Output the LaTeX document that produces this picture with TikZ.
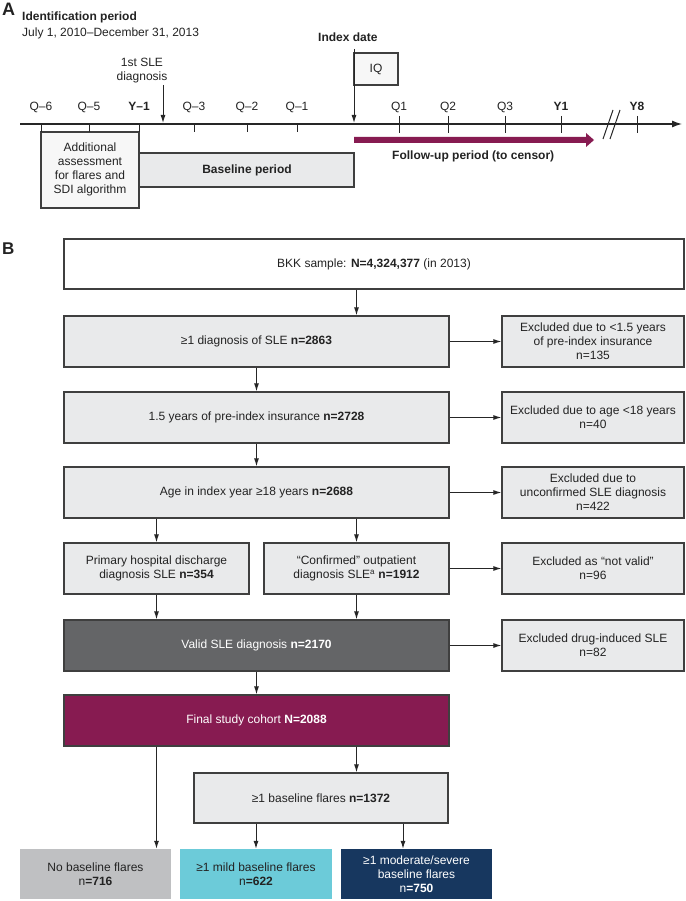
\documentclass[tikz,border=0pt]{standalone}
\usepackage{fontspec}
\setmainfont{Liberation Sans}
\usetikzlibrary{arrows.meta}
\definecolor{boxfill}{HTML}{E9EAEB}
\definecolor{bordc}{HTML}{3F3F3F}
\definecolor{linec}{HTML}{262626}
\definecolor{txt}{HTML}{232323}
\definecolor{validc}{HTML}{646567}
\definecolor{purp}{HTML}{871B51}
\definecolor{nbc}{HTML}{BFC0C2}
\definecolor{mildc}{HTML}{6CCBD9}
\definecolor{navy}{HTML}{17375F}
\definecolor{addfill}{HTML}{F7F7F7}
\begin{document}
\begin{tikzpicture}[x=1pt,y=-1pt,
  font=\fontsize{12}{14}\selectfont,
  gbox/.style={draw=bordc, line width=1.3pt, fill=boxfill, align=center, inner sep=0pt, text=txt},
  fbox/.style={align=center, inner sep=0pt},
  arr/.style={-{Latex[length=8pt,width=5pt]}, line width=1pt, draw=linec},
  lbl/.style={inner sep=0pt, text=txt},
  tick/.style={line width=1pt, draw=linec}]
\useasboundingbox (0,0) rectangle (685,901);

% ---------------- Part A ----------------
\node[lbl, anchor=north west, font=\fontsize{18}{20}\selectfont\bfseries] (lA) at (2,3) {A};
\node[lbl, anchor=base west, font=\fontsize{12}{14}\selectfont\bfseries] (idp) at (22,21) {Identification period};
\node[lbl, anchor=base west] (idd) at (22,37) {July 1, 2010–December 31, 2013};
\node[lbl, anchor=base west, font=\fontsize{12}{14}\selectfont\bfseries] (idx) at (318,42) {Index date};

% boxes of part A
\draw[line width=1.3pt, draw=bordc, fill=addfill] (41,132) rectangle (139,208);
\node[lbl, align=center] (add) at (90,169.5) {Additional\\assessment\\for flares and\\SDI algorithm};
\draw[line width=1.3pt, draw=bordc, fill=boxfill] (139,153) rectangle (354,187);
\node[lbl, font=\fontsize{12}{14}\selectfont\bfseries] (bp) at (247,170.5) {Baseline period};

% IQ flag
\draw[line width=1.3pt, draw=bordc, fill=addfill] (354,53) rectangle (398,85);
\node[lbl] (iq) at (376,69.5) {IQ};
\coordinate (ixtop) at (354,49);
\coordinate (ixbot) at (354,123);
\draw[arr] (ixtop) -- (ixbot);

% 1st SLE diagnosis
\node[lbl, align=center] (sle) at (142,71) {1st SLE\\diagnosis};
\coordinate (sletop) at (163,85);
\coordinate (slebot) at (163,123);
\draw[arr] (sletop) -- (slebot);

% timeline
\coordinate (tl0) at (20,124);
\coordinate (tl1) at (682,124);
\draw[-{Latex[length=10pt,width=7pt]}, line width=1.2pt, draw=linec] (tl0) -- (tl1);
\foreach \x in {41,89,139,194,247,297}{\draw[tick] (\x,124) -- (\x,132);}
\foreach \x in {399,448,505,561,637}{\draw[tick] (\x,116) -- (\x,133);}
\foreach \x/\t in {41/Q–6,89/Q–5,194/Q–3,247/Q–2,297/Q–1,399/Q1,448/Q2,505/Q3}{
  \node[lbl, anchor=base] at (\x,111) {\t};}
\node[lbl, anchor=base, font=\fontsize{12}{14}\selectfont\bfseries] (ym1) at (139,111) {Y–1};
\node[lbl, anchor=base, font=\fontsize{12}{14}\selectfont\bfseries] (y1) at (561,111) {Y1};
\node[lbl, anchor=base, font=\fontsize{12}{14}\selectfont\bfseries] (y8) at (637,111) {Y8};
% break marks
\draw[line width=1pt, draw=linec] (603,139) -- (613,110);
\draw[line width=1pt, draw=linec] (610,139) -- (620,110);

% follow-up arrow
\fill[purp] (354,137) -- (586,137) -- (586,133) -- (594,140) -- (586,147) -- (586,143) -- (354,143) -- cycle;
\node[lbl, anchor=base west, font=\fontsize{12}{14}\selectfont\bfseries] (fu) at (392,160) {Follow-up period (to censor)};

% ---------------- Part B ----------------
\node[lbl, anchor=north west, font=\fontsize{17}{20}\selectfont\bfseries] (lB) at (2,243) {B};

\node[gbox, fill=white, minimum width=620, minimum height=50] (bkk) at (374,264) {BKK sample: \textbf{N=4,324,377} (in 2013)};
\node[gbox, minimum width=385, minimum height=51] (d1) at (256.5,341.5) {≥1 diagnosis of SLE \textbf{n=2863}};
\node[gbox, minimum width=182, minimum height=51] (e1) at (593,341.5) {Excluded due to <1.5 years\\of pre-index insurance\\n=135};
\node[gbox, minimum width=385, minimum height=51] (d2) at (256.5,417.5) {1.5 years of pre-index insurance \textbf{n=2728}};
\node[gbox, minimum width=182, minimum height=51] (e2) at (593,417.5) {Excluded due to age <18 years\\n=40};
\node[gbox, minimum width=385, minimum height=51] (d3) at (256.5,492.5) {Age in index year ≥18 years \textbf{n=2688}};
\node[gbox, minimum width=182, minimum height=51] (e3) at (593,492.5) {Excluded due to\\unconfirmed SLE diagnosis\\n=422};
\node[gbox, minimum width=185, minimum height=51] (p) at (156.5,568.5) {Primary hospital discharge\\diagnosis SLE \textbf{n=354}};
\node[gbox, minimum width=185, minimum height=51] (c) at (356.5,568.5) {“Confirmed” outpatient\\diagnosis SLE\textsuperscript{a} \textbf{n=1912}};
\node[gbox, minimum width=182, minimum height=51] (e4) at (593,568.5) {Excluded as “not valid”\\n=96};
\node[gbox, fill=validc, draw=bordc, text=white, minimum width=385, minimum height=51] (v) at (256.5,645.5) {Valid SLE diagnosis \textbf{n=2170}};
\node[gbox, minimum width=182, minimum height=51] (e5) at (593,645.5) {Excluded drug-induced SLE\\n=82};
\node[gbox, fill=purp, draw=bordc, text=white, minimum width=385, minimum height=51] (f) at (256.5,720.5) {Final study cohort \textbf{N=2088}};
\node[gbox, minimum width=254, minimum height=50] (bf) at (321,798) {≥1 baseline flares \textbf{n=1372}};
\node[fbox, fill=nbc, text=txt, minimum width=151, minimum height=50] (nb) at (95.5,874) {No baseline flares\\n\textbf{=716}};
\node[fbox, fill=mildc, text=txt, minimum width=152, minimum height=50] (mild) at (256,874) {≥1 mild baseline flares\\n\textbf{=622}};
\node[fbox, fill=navy, text=white, minimum width=151, minimum height=50] (mod) at (416.5,874) {≥1 moderate/severe\\baseline flares\\n\textbf{=750}};

% connectors
\draw[arr] (bkk.south -| c) -- (d1.north -| c);
\draw[arr] (d1.south) -- (d2.north);
\draw[arr] (d2.south) -- (d3.north);
\draw[arr] (d3.south -| p) -- (p.north);
\draw[arr] (d3.south -| c) -- (c.north);
\draw[arr] (p.south) -- (v.north -| p);
\draw[arr] (c.south) -- (v.north -| c);
\draw[arr] (v.south) -- (f.north);
\draw[arr] (f.south -| p) -- (nb.north -| p);
\draw[arr] (f.south -| c) -- (bf.north -| c);
\draw[arr] (bf.south -| mild) -- (mild.north);
\coordinate (m2) at (403,823);
\draw[arr] (bf.south -| m2) -- (mod.north -| m2);
\draw[arr] (d1.east) -- (e1.west);
\draw[arr] (d2.east) -- (e2.west);
\draw[arr] (d3.east) -- (e3.west);
\draw[arr] (c.east) -- (e4.west);
\draw[arr] (v.east) -- (e5.west);
\end{tikzpicture}
\end{document}
